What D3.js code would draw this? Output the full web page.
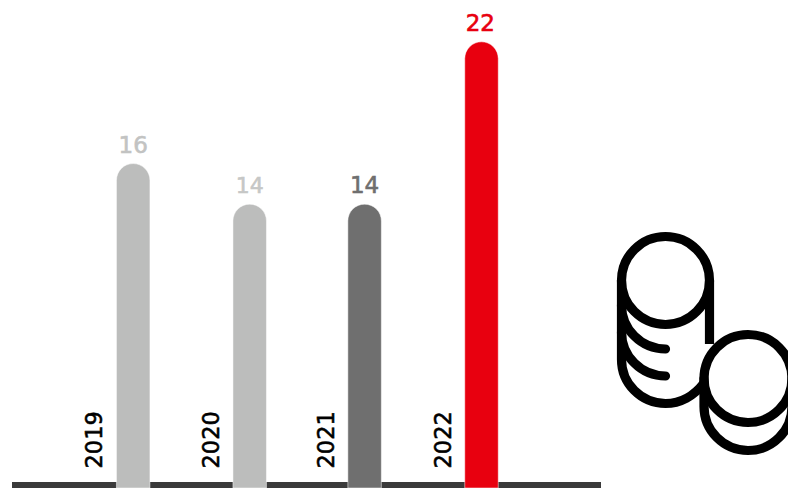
<!DOCTYPE html>
<html><head><meta charset="utf-8">
<script src="https://cdn.jsdelivr.net/npm/d3@7/dist/d3.min.js"></script>
<style>html,body{margin:0;padding:0;background:#fff;overflow:hidden}svg{display:block}</style>
</head><body><script>
const years = ["2019","2020","2021","2022"];
const values = [16,14,14,22];
const barColors = ["#bcbdbc","#bcbdbc","#6f6f6f","#e8000f"];
const valueColors = ["#c2c3c2","#c6c7c6","#6f6f6f","#e8000f"];
const W=788,H=488,barW=33.5;
const svg=d3.select("body").append("svg").attr("width",W).attr("height",H);
const x=d3.scaleOrdinal().domain(years).range([133.2,249.7,364.6,481.5]);
const y=d3.scaleLinear().domain([0,22]).range([488,41.5]);
svg.append("rect").attr("x",12).attr("y",482).attr("width",589).attr("height",6).attr("fill","#3a3a3a");
const g=svg.selectAll("g.b").data(years).join("g").attr("class","b");
g.append("path").attr("fill",(d,i)=>barColors[i]).attr("stroke","#fff").attr("stroke-width",0.5)
 .attr("d",(d,i)=>{const l=x(d)-barW/2,r=x(d)+barW/2,t=y(values[i])+0.3,a=barW/2,b=y(0);
   const p=d3.path();p.moveTo(l,b);p.lineTo(l,t+a);p.arc(x(d),t+a,a,Math.PI,2*Math.PI);p.lineTo(r,b);p.closePath();return p.toString();});
g.append("text").attr("x",(d,i)=>x(d)-(i===3?1.2:0)).attr("y",(d,i)=>y(values[i])-(i===3?11:i===0?10.5:10.8)).attr("text-anchor","middle")
 .attr("font-family","'DejaVu Sans'").attr("font-size",(d,i)=>i===1?22:23).attr("fill",(d,i)=>valueColors[i])
 .attr("stroke",(d,i)=>valueColors[i]).attr("stroke-width",0.6).text((d,i)=>values[i]);
g.append("text").attr("transform",d=>`translate(${x(d)-30.8},468.5) rotate(-90)`)
 .attr("font-family","'DejaVu Sans'").attr("font-size",22.5).attr("fill","#000").attr("stroke","#000").attr("stroke-width",0.55).text(d=>d);
// coins icon
const icon=svg.append("g").attr("fill","none").attr("stroke","#000").attr("stroke-width",9.2).attr("stroke-linecap","round");
const arcPath=(cx,cy,r,a0,a1,ccw)=>{const p=d3.path();p.arc(cx,cy,r,a0,a1,ccw);return p.toString();};
icon.append("circle").attr("cx",665.5).attr("cy",280.5).attr("r",44);
icon.append("path").attr("d","M621.5 280.5V359.5A44 44 0 0 0 665.5 403.5C680 403.5 694 396 704 383");
icon.append("path").attr("d","M709.5 280.5V344").attr("stroke-linecap","butt");
icon.append("path").attr("d",arcPath(665.5,305,44,Math.PI,Math.PI/2,true));
icon.append("path").attr("d",arcPath(665.5,332,44,Math.PI,Math.PI/2,true));
icon.append("circle").attr("cx",748).attr("cy",378.5).attr("r",44);
icon.append("path").attr("d","M704 378.5V406.5A44 44 0 0 0 792 406.5V378.5");
</script></body></html>
